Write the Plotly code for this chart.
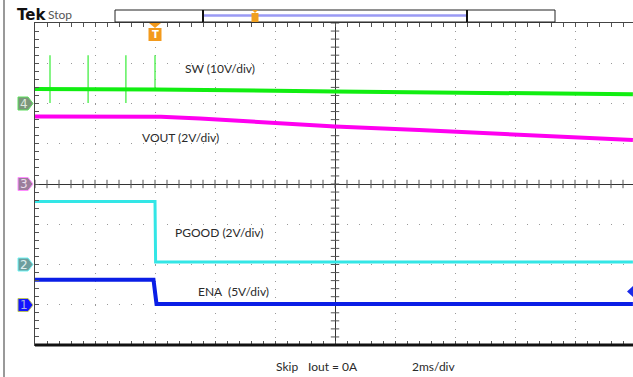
import numpy as np
import plotly.graph_objects as go

# ---------------- data (time in ms, values in volts) ----------------
sw_t = [-10.0, -6.0, 0.0, 5.0, 9.93]
sw_v = [3.60, 3.48, 2.98, 2.61, 2.29]
sw_spike_t = [-9.5, -8.23, -6.97, -6.0]
sw_spike_top = [12.0, 12.0, 12.0, 12.0]
sw_spike_bot = [0.1, 0.1, 0.1, 3.5]

vout_t = [-10.0, -5.8, -4.5, -2.8, 0.0, 2.8, 5.5, 8.0, 9.93]
vout_v = [3.35, 3.34, 3.25, 3.11, 2.86, 2.68, 2.48, 2.32, 2.19]

pgood_t = [-10.0, -6.0, -5.98, 9.93]
pgood_v = [3.13, 3.13, 0.12, 0.12]

ena_t = [-10.0, -6.05, -5.95, 9.93]
ena_v = [3.10, 3.10, 0.10, 0.10]

labels = ["SW (10V/div)", "VOUT (2V/div)", "PGOOD (2V/div)", "ENA&nbsp; (5V/div)"]
footer = ["Skip", "Iout = 0A", "2ms/div"]

W, H = 633, 377
L, T, B = 35, 23, 32
PW, PH = W - L, H - T - B


def px(p):
    return (p - L) / PW


def py(p):
    return (H - B - p) / PH


fig = go.Figure()

# graticule centre-cross ticks
tt = np.arange(-10, 10.01, 0.4)
fig.add_trace(go.Scatter(x=tt, y=[0] * len(tt), mode="markers", yaxis="y",
                         marker=dict(symbol="line-ns", size=6, line=dict(color="#555", width=1)),
                         hoverinfo="skip", showlegend=False))
dd = np.arange(-4, 4.01, 0.2)
fig.add_trace(go.Scatter(x=[0] * len(dd), y=dd, mode="markers", yaxis="y",
                         marker=dict(symbol="line-ew", size=6, line=dict(color="#555", width=1)),
                         hoverinfo="skip", showlegend=False))

# SW spikes
sx, sy = [], []
for t, a, b in zip(sw_spike_t, sw_spike_top, sw_spike_bot):
    sx += [t, t, None]
    sy += [a, b, None]
fig.add_trace(go.Scatter(x=sx, y=sy, mode="lines", yaxis="y2",
                         line=dict(color="#44ee44", width=1.3), showlegend=False))
fig.add_trace(go.Scatter(x=sw_t, y=sw_v, mode="lines", yaxis="y2",
                         line=dict(color="#11ee11", width=4), showlegend=False))
fig.add_trace(go.Scatter(x=vout_t, y=vout_v, mode="lines", yaxis="y3",
                         line=dict(color="#ff00f0", width=4), showlegend=False))
fig.add_trace(go.Scatter(x=pgood_t, y=pgood_v, mode="lines", yaxis="y4",
                         line=dict(color="#33e6e6", width=3), showlegend=False))
fig.add_trace(go.Scatter(x=ena_t, y=ena_v, mode="lines", yaxis="y5",
                         line=dict(color="#0a1ee6", width=4), showlegend=False))

shapes = []
# bottom thick frame
shapes.append(dict(type="line", xref="paper", yref="paper", x0=0, x1=1, y0=0, y1=0,
                   line=dict(color="#111", width=3)))
# left outer border line
shapes.append(dict(type="line", xref="paper", yref="paper", x0=px(4), x1=px(4), y0=py(0), y1=py(377),
                   line=dict(color="#777", width=1.5)))
# record bar
shapes.append(dict(type="rect", xref="paper", yref="paper", x0=px(115), x1=px(555), y0=py(22), y1=py(10),
                   line=dict(color="#222", width=1), fillcolor="white"))
shapes.append(dict(type="line", xref="paper", yref="paper", x0=px(204), x1=px(467), y0=py(15.5), y1=py(15.5),
                   line=dict(color="#9a9af5", width=2.5)))
for xp in (203, 467):
    shapes.append(dict(type="line", xref="paper", yref="paper", x0=px(xp), x1=px(xp), y0=py(22), y1=py(10),
                       line=dict(color="#111", width=2)))
# small T marker in bar
shapes.append(dict(type="path", xref="paper", yref="paper",
                   path=f"M {px(252)},{py(10)} L {px(258)},{py(10)} L {px(255)},{py(13)} Z",
                   fillcolor="#f0a020", line=dict(width=0)))
shapes.append(dict(type="rect", xref="paper", yref="paper", x0=px(251.5), x1=px(258.5), y0=py(22), y1=py(13),
                   fillcolor="#f0a020", line=dict(width=0)))
# trigger marker at grid top
shapes.append(dict(type="path", xref="paper", yref="paper",
                   path=f"M {px(149)},{py(23)} L {px(161)},{py(23)} L {px(155)},{py(28)} Z",
                   fillcolor="#f39a1c", line=dict(width=0)))
shapes.append(dict(type="rect", xref="paper", yref="paper", x0=px(148.5), x1=px(161.5), y0=py(41), y1=py(28),
                   fillcolor="#f39a1c", line=dict(width=0)))

# channel markers
chan = [("4", 103.5, "#7b967b", "#5fe05f", "#dfe8df"),
        ("3", 184.0, "#9b7e9b", "#ff8cff", "#eadfea"),
        ("2", 264.5, "#6d9e9e", "#6ff5f5", "#e0f0f0"),
        ("1", 305.0, "#1414ff", "#b8c060", "#a8b0e0")]
annotations = []
for n, c, fill, edge, txt in chan:
    shapes.append(dict(type="path", xref="paper", yref="paper",
                       path=(f"M {px(18)},{py(c-6.5)} L {px(28)},{py(c-6.5)} L {px(33)},{py(c)} "
                             f"L {px(28)},{py(c+6.5)} L {px(18)},{py(c+6.5)} Z"),
                       fillcolor=fill, line=dict(color=edge, width=1)))
    annotations.append(dict(text=n, xref="paper", yref="paper", x=px(24), y=py(c), showarrow=False,
                            xanchor="center", yanchor="middle",
                            font=dict(family="DejaVu Sans", size=12, color=txt)))
# trigger level marker right
shapes.append(dict(type="path", xref="paper", yref="paper",
                   path=f"M {px(627)},{py(291.5)} L {px(633)},{py(286)} L {px(633)},{py(297)} Z",
                   fillcolor="#1a2ae8", line=dict(width=0)))

txtfont = dict(family="Lato", size=12, color="#2a2a2a")
for text, xl, yc in zip(labels, [183, 140, 173, 196], [68, 137, 232, 291]):
    annotations.append(dict(text=text, xref="paper", yref="paper", x=px(xl), y=py(yc), showarrow=False,
                            xanchor="left", yanchor="middle", font=txtfont))
for text, xl in zip(footer, [274, 306, 410]):
    annotations.append(dict(text=text, xref="paper", yref="paper", x=px(xl), y=py(366), showarrow=False,
                            xanchor="left", yanchor="middle", font=txtfont))
annotations.append(dict(text="<b>Tek</b>", xref="paper", yref="paper", x=px(15), y=py(15.5), showarrow=False,
                        xanchor="left", yanchor="middle",
                        font=dict(family="DejaVu Sans", size=15, color="#111")))
annotations.append(dict(text="Stop", xref="paper", yref="paper", x=px(46), y=py(15), showarrow=False,
                        xanchor="left", yanchor="middle",
                        font=dict(family="Lato", size=12, color="#555")))
annotations.append(dict(text="<b>T</b>", xref="paper", yref="paper", x=px(155), y=py(34.5), showarrow=False,
                        xanchor="center", yanchor="middle",
                        font=dict(family="DejaVu Sans", size=10, color="white")))

hidden = dict(visible=False, overlaying="y", fixedrange=True)
fig.update_layout(
    width=W, height=H,
    margin=dict(l=L, r=0, t=T, b=B, pad=0),
    paper_bgcolor="white", plot_bgcolor="white",
    xaxis=dict(range=[-10, 9.933], dtick=2, tick0=0, showticklabels=False,
               showgrid=True, gridcolor="#999", griddash="1px,7.05px", gridwidth=1,
               zeroline=True, zerolinecolor="#333", zerolinewidth=1,
               showline=True, linecolor="#444", linewidth=1, mirror="ticks",
               ticks="inside", ticklen=4, tickcolor="#555",
               minor=dict(dtick=0.4, ticks="inside", ticklen=4, tickcolor="#555", showgrid=False)),
    yaxis=dict(range=[-4, 4], dtick=1, tick0=0, showticklabels=False,
               showgrid=True, gridcolor="#999", griddash="1px,11px", gridwidth=1,
               zeroline=True, zerolinecolor="#333", zerolinewidth=1,
               showline=True, linecolor="#444", linewidth=1,
               ticks="inside", ticklen=4, tickcolor="#555",
               minor=dict(dtick=0.2, ticks="inside", ticklen=4, tickcolor="#555", showgrid=False)),
    yaxis2=dict(range=[-60, 20], **hidden),
    yaxis3=dict(range=[-8, 8], **hidden),
    yaxis4=dict(range=[-4, 12], **hidden),
    yaxis5=dict(range=[-5, 35], **hidden),
    shapes=shapes, annotations=annotations, showlegend=False,
)

fig.write_html("out.html", config={"displayModeBar": False},
               post_script="document.body.style.margin='0';document.body.style.overflow='hidden';")
